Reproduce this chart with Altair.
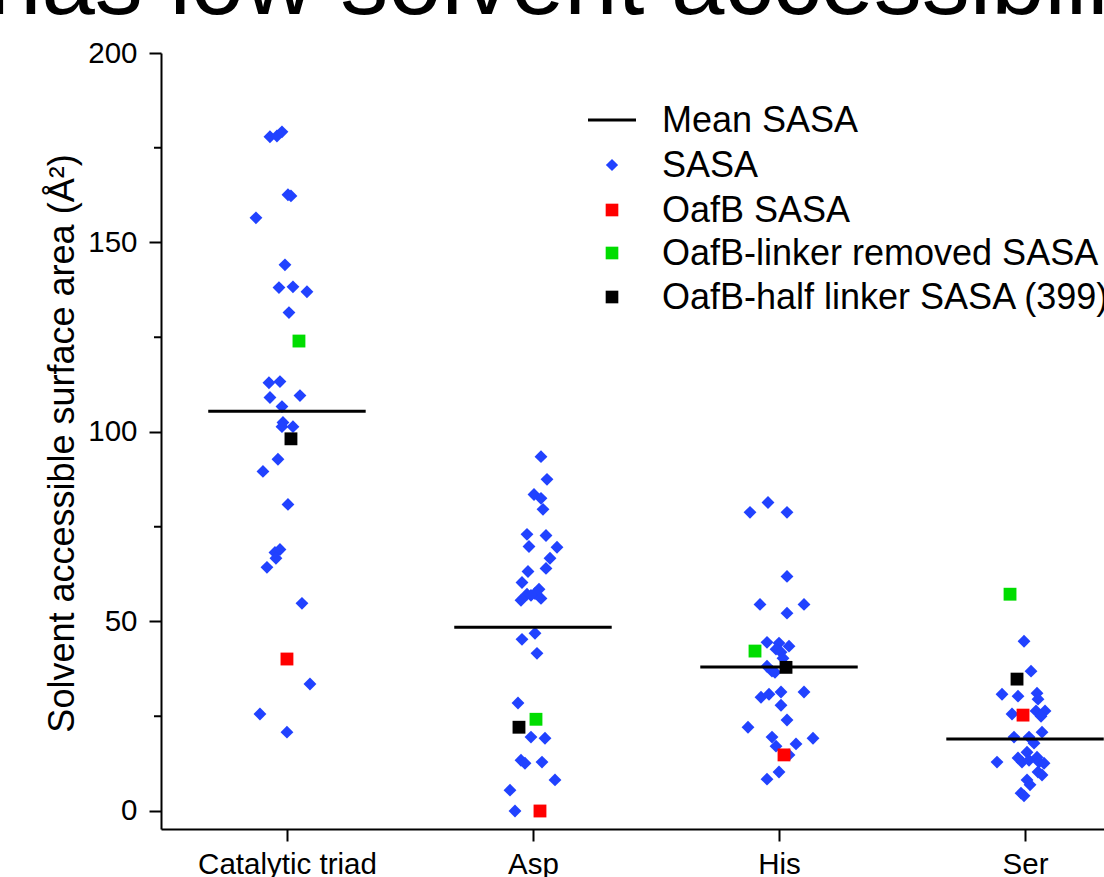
import json
import altair as alt
import pandas as pd

# ---------------- data ----------------
categories = ["Catalytic triad", "Asp", "His", "Ser"]

sasa_catalytic = [177.9, 178.1, 179.2, 162.6, 162.3, 156.5, 144.1, 138.1, 138.3, 137.0,
                  131.5, 113.0, 113.3, 109.1, 109.6, 106.7, 102.5, 101.4, 101.4, 92.8,
                  89.6, 80.9, 69.0, 68.2, 66.7, 64.3, 54.8, 33.5, 25.6, 20.8]
jit_catalytic = [-17, -10, -5, 1, 4, -31, -2, -8, 6, 20,
                 2, -18, -7, -17, 13, -5, -4, -5, 6, -9,
                 -24, 1, -7, -12, -11, -20, 15, 23, -27, 0]

sasa_asp = [93.5, 87.5, 83.5, 82.5, 79.6, 73.0, 72.7, 69.8, 69.6, 66.7,
            64.0, 63.2, 60.3, 58.5, 57.2, 57.4, 56.9, 56.1, 55.6, 46.9,
            45.3, 41.6, 28.5, 19.5, 19.2, 13.4, 12.6, 12.9, 8.2, 5.5, 0.0]
jit_asp = [8, 14, 1, 8, 10, -6, 13, -4, 24, 17,
           13, -5, -11, 6, -6, 2, -2, 8, -12, 2,
           -11, 4, -15, -2, 12, -12, -8, 9, 22, -23, -18]

sasa_his = [81.4, 78.8, 78.8, 61.9, 54.5, 54.5, 52.2, 44.5, 44.3, 43.5,
            42.7, 41.9, 40.3, 38.2, 36.9, 36.6, 30.0, 30.8, 31.4, 31.4,
            27.9, 24.0, 22.1, 19.5, 19.2, 17.1, 17.7, 14.8, 10.3, 8.4]
jit_his = [-11, -29, 8, 8, -19, 25, 8, -12, 0, 10,
           -3, 2, 4, -12, -7, -4, -18, -10, 2, 25,
           2, 8, -31, -7, 34, -3, 17, 10, 0, -12]

sasa_ser = [44.8, 36.9, 30.8, 30.3, 31.1, 29.5, 25.6, 26.4, 26.4, 25.0,
            19.5, 19.5, 17.9, 20.8, 15.5, 12.9, 14.0, 12.9, 13.4, 14.2,
            12.9, 12.6, 10.3, 9.5, 8.2, 6.9, 4.7, 4.0]
jit_ser = [-1, 6, -23, -7, 12, 13, -13, 11, 20, 16,
           -11, 4, 9, 17, 2, -28, -7, -3, 4, 12,
           14, 19, 13, 17, 2, 5, -4, -1]

mean_sasa = [105.5, 48.5, 38.0, 19.0]
oafb_sasa = [40.1, 0.0, 14.8, 25.3]
oafb_jit = [0, 7, 5, -2]
linker_removed_sasa = [124.0, 24.2, 42.2, 57.2]
linker_removed_jit = [12, 3, -24, -15]
half_linker_sasa = [98.2, 22.1, 37.9, 34.8]
half_linker_jit = [4, -14, 7, -8]

minor_ticks = [25, 75, 125, 175]
major_ticks = [0, 50, 100, 150, 200]

legend_labels = ["Mean SASA", "SASA", "OafB SASA",
                 "OafB-linker removed SASA", "OafB-half linker SASA (399)"]
headline = "has low solvent accessibility"
y_title = "Solvent accessible surface area (Å²)"

# ---------------- styling ----------------
FONT = "Liberation Sans"
BLUE = "#2142FF"
RED = "#FF0000"
GREEN = "#00DD00"
BLACK = "#000000"
PX_PER_CAT = 246.0
HALF_LINE = 0.32

# ---------------- tables ----------------
sasa_sets = [sasa_catalytic, sasa_asp, sasa_his, sasa_ser]
jit_sets = [jit_catalytic, jit_asp, jit_his, jit_ser]
rows = []
for i, (cat, vals, jits) in enumerate(zip(categories, sasa_sets, jit_sets)):
    for v, j in zip(vals, jits):
        rows.append({"cat": cat, "pos": i + 1 + j / PX_PER_CAT, "sasa": v})
sasa_df = pd.DataFrame(rows)

mean_df = pd.DataFrame({"cat": categories, "idx": [1, 2, 3, 4], "mean": mean_sasa})

special_rows = []
for series, vals, jits in [
    ("OafB SASA", oafb_sasa, oafb_jit),
    ("OafB-linker removed SASA", linker_removed_sasa, linker_removed_jit),
    ("OafB-half linker SASA (399)", half_linker_sasa, half_linker_jit),
]:
    for i, (v, j) in enumerate(zip(vals, jits)):
        special_rows.append({"series": series, "cat": categories[i],
                             "pos": i + 1 + j / PX_PER_CAT, "sasa": v})
special_df = pd.DataFrame(special_rows)

# ---------------- scales & axes ----------------
x_scale = alt.Scale(domain=[0.488, 4.321], nice=False, zero=False)
y_scale = alt.Scale(domain=[-4.75, 200], nice=False, zero=False)

x_axis = alt.Axis(
    values=[1, 2, 3, 4],
    labelExpr=f"{json.dumps(categories)}[datum.value - 1]",
    title=None, grid=False,
    domainColor=BLACK, domainWidth=2,
    tickColor=BLACK, tickWidth=2, tickSize=12,
    labelFont=FONT, labelFontSize=29.5, labelColor=BLACK, labelPadding=9,
    labelOverlap=False, labelFlush=False,
)
y_axis = alt.Axis(
    values=major_ticks, title=y_title, grid=False,
    domainColor=BLACK, domainWidth=2,
    tickColor=BLACK, tickWidth=2, tickSize=12,
    labelFont=FONT, labelFontSize=29.5, labelColor=BLACK, labelPadding=12,
    titleFont=FONT, titleFontSize=36, titleFontWeight="normal", titleColor=BLACK,
    titleAngle=-90, titleAlign="center", titleBaseline="alphabetic",
    titleX=-88, titleY=390,
)

X = alt.X("pos:Q", scale=x_scale, axis=x_axis)
Y = alt.Y("sasa:Q", scale=y_scale, axis=y_axis)

points = alt.Chart(sasa_df).mark_point(
    shape="diamond", filled=True, size=165, color=BLUE, opacity=1
).encode(x=X, y=Y)

means = alt.Chart(mean_df).transform_calculate(
    x1=f"datum.idx - {HALF_LINE}", x2=f"datum.idx + {HALF_LINE}"
).mark_rule(color=BLACK, strokeWidth=3, clip=True).encode(
    x=alt.X("x1:Q", scale=x_scale, axis=x_axis),
    x2="x2:Q",
    y=alt.Y("mean:Q", scale=y_scale, axis=y_axis),
)

specials = alt.Chart(special_df).mark_point(
    shape="square", filled=True, size=165, opacity=1
).encode(
    x=X, y=Y,
    color=alt.Color("series:N",
                    scale=alt.Scale(domain=legend_labels[2:], range=[RED, GREEN, BLACK]),
                    legend=None),
)

minor = alt.Chart(pd.DataFrame({"v": minor_ticks})).mark_rule(
    color=BLACK, strokeWidth=2
).encode(
    y=alt.Y("v:Q", scale=y_scale, axis=y_axis),
    x=alt.value(-7), x2=alt.value(0),
)

title_layer = alt.Chart(pd.DataFrame({"t": [headline]})).mark_text(
    align="left", baseline="alphabetic", fontSize=96, font=FONT, color=BLACK
).encode(x=alt.value(-173), y=alt.value(-39), text="t:N")

# ---------------- manual legend ----------------
legend_layers = []
row_y = [67, 112, 157, 200, 244]
sym_x = 451
text_x = 501
legend_df = pd.DataFrame({"label": legend_labels})
legend_layers.append(
    alt.Chart(legend_df.iloc[[0]]).mark_rule(color=BLACK, strokeWidth=3).encode(
        x=alt.value(sym_x - 24), x2=alt.value(sym_x + 24), y=alt.value(row_y[0]))
)
sym_specs = [("diamond", BLUE, 150), ("square", RED, 160),
             ("square", GREEN, 160), ("square", BLACK, 160)]
for k, (shape, col, sz) in enumerate(sym_specs, start=1):
    legend_layers.append(
        alt.Chart(legend_df.iloc[[k]]).mark_point(
            shape=shape, filled=True, size=sz, color=col, opacity=1
        ).encode(x=alt.value(sym_x), y=alt.value(row_y[k]))
    )
for k in range(len(legend_labels)):
    legend_layers.append(
        alt.Chart(legend_df.iloc[[k]]).mark_text(
            align="left", baseline="middle", fontSize=36, font=FONT, color=BLACK
        ).encode(x=alt.value(text_x), y=alt.value(row_y[k] + 1), text="label:N")
    )

chart = alt.layer(
    minor, points, means, specials, title_layer, *legend_layers
).properties(
    width=943, height=776,
    autosize=alt.AutoSizeParams(type="none"),
    padding={"left": 161, "top": 53, "right": 0, "bottom": 48},
    background="white",
).configure_view(stroke=None)

chart.save("out.html", embed_options={"renderer": "svg", "actions": False})
